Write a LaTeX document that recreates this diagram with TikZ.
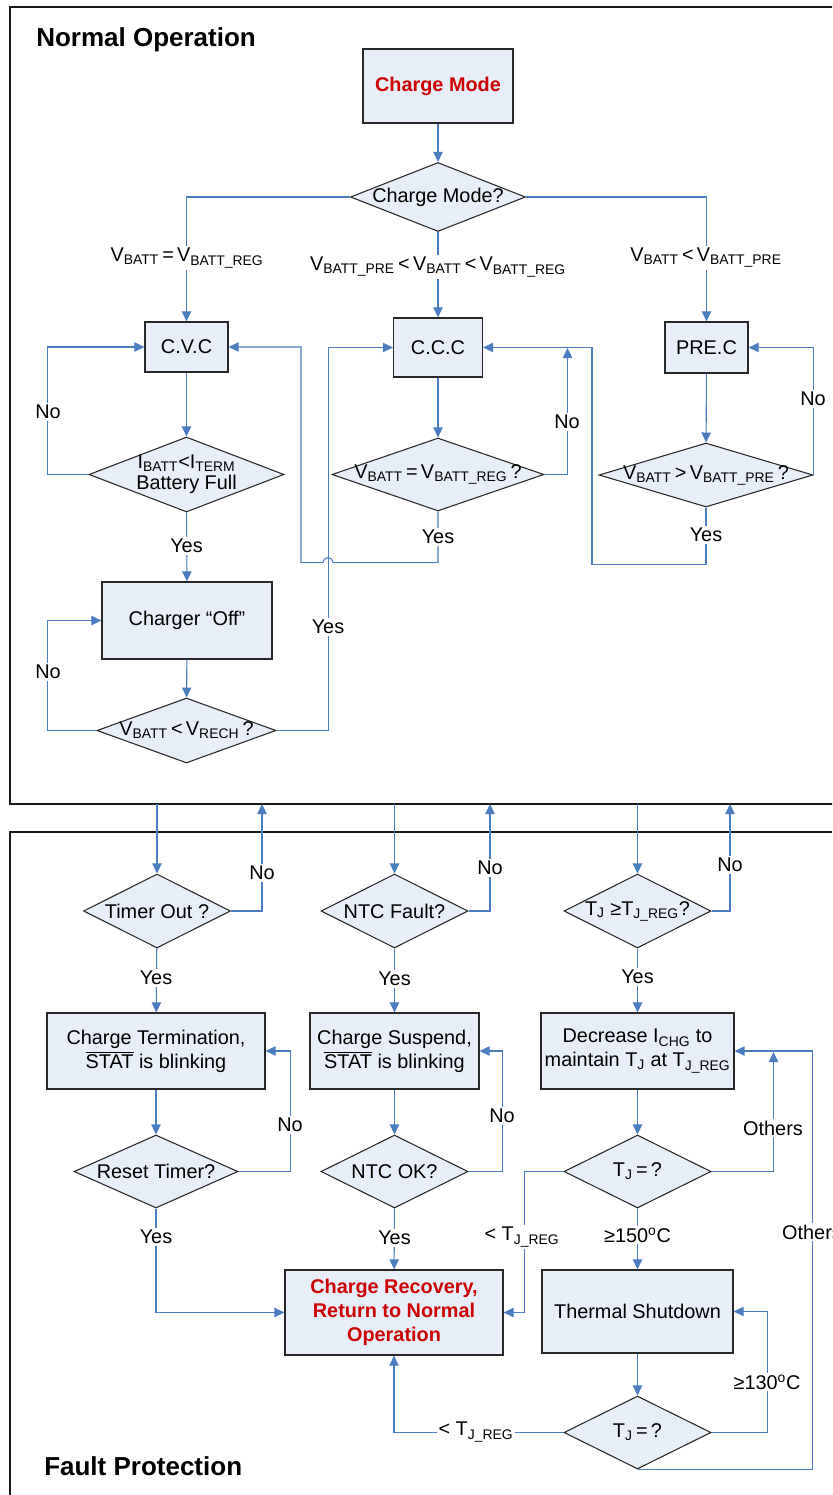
\documentclass[tikz,border=0pt]{standalone}
\usepackage{fontspec}
\setmainfont{Liberation Sans}
\usetikzlibrary{shapes.geometric,arrows.meta}
\definecolor{boxfill}{RGB}{232,238,247}
\definecolor{boxline}{RGB}{40,40,40}
\definecolor{flowblue}{RGB}{74,126,193}
\definecolor{alarm}{RGB}{204,0,0}
\newcommand{\sbs}[1]{\textsubscript{#1}}
\newcommand{\nbar}[1]{$\overline{\hbox{#1}}$}

\begin{document}
\begin{tikzpicture}[x=0.75pt, y=-0.75pt, font=\fontsize{14.9}{18}\selectfont,
	box/.style={draw=boxline, fill=boxfill, line width=0.9pt, align=center, inner sep=0pt},
	ask/.style={diamond, draw=boxline, fill=boxfill, line width=0.8pt, inner sep=0pt},
	flow/.style={draw=flowblue, line width=0.8pt, -{Triangle[length=7.5pt,width=7pt]}},
	lbl/.style={fill=white, inner sep=1.5pt},
	hot/.style={text=alarm, font=\fontsize{14.9}{18}\selectfont\bfseries},
	title/.style={font=\fontsize{19.5}{22}\selectfont\bfseries, inner sep=0pt}]
	\useasboundingbox (0,0) rectangle (832,1495);
	\clip (0,0) rectangle (832,1495);

	%frames
	\draw[line width=2.2pt, black!90] (10,7) rectangle (900,804);
	\draw[line width=2.2pt, black!90] (10,832) rectangle (900,1600);
	\node (normal) at (36,47) [anchor=base west, title]{Normal Operation};
	\node (fault) at (44,1475) [anchor=base west, title]{Fault Protection};
	\coordinate (fb) at (0,804);

	%normal operation
	\node (mode) at (438,86) [box, hot, minimum width=112.5pt, minimum height=55.5pt]{Charge Mode};
	\node (modeq) at (438,197) [ask, minimum width=131.25pt, minimum height=51.75pt, label=center:Charge Mode?]{};
	\node (cvc) at (186.5,347) [box, minimum width=62.25pt, minimum height=37.5pt]{C.V.C};
	\node (ccc) at (438,347.5) [box, minimum width=66.75pt, minimum height=44.25pt]{C.C.C};
	\node (prec) at (706.5,347.5) [box, minimum width=62.25pt, minimum height=38.25pt]{PRE.C};
	\node (fullq) at (186.5,474.5) [ask, minimum width=146.25pt, minimum height=56.25pt,
		label={[align=center, font=\fontsize{14.9}{16}\selectfont]center:I\sbs{BATT}<I\sbs{TERM}\\Battery Full}]{};
	\node (regq) at (438,474.5) [ask, minimum width=159pt, minimum height=54.75pt,
		label={center:V\sbs{BATT}\,=\,V\sbs{BATT\_REG}\,?}]{};
	\node (preq) at (706,475) [ask, minimum width=160.5pt, minimum height=48pt,
		label={center:V\sbs{BATT}\,>\,V\sbs{BATT\_PRE}\,?}]{};
	\node (off) at (187,620.5) [box, minimum width=127.5pt, minimum height=57.75pt]{Charger “Off”};
	\node (rechq) at (186.5,730.5) [ask, minimum width=134.25pt, minimum height=48.75pt,
		label={center:V\sbs{BATT}\,<\,V\sbs{RECH}\,?}]{};

	\draw[flow] (mode) -- (modeq);
	\draw[flow] (modeq.west) -| (cvc.north);
	\draw[flow] (modeq.south) -- (ccc.north);
	\draw[flow] (modeq.east) -| (prec.north);
	\draw[flow] (cvc) -- (fullq);
	\draw[flow] (ccc) -- (regq);
	\draw[flow] (prec) -- (preq);
	\draw[flow] (fullq) -- (off);
	\draw[flow] (off) -- (rechq);
	\draw[flow] (fullq.west) -- ++(-41,0) |- (cvc.west);
	\draw[flow] (regq.south) -- ++(0,51) -- ++(-105,0) arc[start angle=0, end angle=-180, radius=5] -- ++(-22,0) |- (cvc.east);
	\draw[flow] (rechq.east) -- ++(52,0) |- (ccc.west);
	\draw[flow] (regq.east) -- ++(23,0) -- ++(0,-126.5);
	\draw[flow] (preq.south) -- ++(0,57) -- ++(-114,0) |- (ccc.east);
	\draw[flow] (preq.east) |- (prec.east);
	\draw[flow] (rechq.west) -- ++(-49,0) |- (off.west);

	\node (eqreg) at (187,258) [lbl]{V\sbs{BATT}\,=\,V\sbs{BATT\_REG}};
	\node (between) at (438,267) [lbl]{V\sbs{BATT\_PRE}\,<\,V\sbs{BATT}\,<\,V\sbs{BATT\_REG}};
	\node (belowpre) at (706,258) [lbl]{V\sbs{BATT}\,<\,V\sbs{BATT\_PRE}};
	\node (fullno) at (48,412) [lbl]{No};
	\node (regno) at (567,422) [lbl]{No};
	\node (preno) at (813,399) [lbl]{No};
	\node (fullyes) at (186.5,546) [lbl]{Yes};
	\node (regyes) at (438,537) [lbl]{Yes};
	\node (preyes) at (706,535) [lbl]{Yes};
	\node (rechno) at (48,672) [lbl]{No};
	\node (rechyes) at (328,627) [lbl]{Yes};

	%fault protection
	\node (timerq) at (157,911) [ask, minimum width=110.25pt, minimum height=55.5pt, label=center:Timer Out ?]{};
	\node (ntcq) at (394.5,911) [ask, minimum width=110.25pt, minimum height=55.5pt, label=center:NTC Fault?]{};
	\node (tjq) at (637.5,911) [ask, minimum width=110.25pt, minimum height=55.5pt,
		label={center:T\sbs{J} ≥T\sbs{J\_REG}?}]{};
	\node (term) at (156,1051) [box, minimum width=163.5pt, minimum height=57pt]{Charge Termination,\\\nbar{STAT} is blinking};
	\node (susp) at (394.5,1051) [box, minimum width=126.75pt, minimum height=57pt]{Charge Suspend,\\\nbar{STAT} is blinking};
	\node (decr) at (637.5,1051) [box, minimum width=144.75pt, minimum height=57pt]{Decrease I\sbs{CHG} to\\maintain T\sbs{J} at T\sbs{J\_REG}};
	\node (resetq) at (156,1171.5) [ask, minimum width=123pt, minimum height=54.75pt, label=center:Reset Timer?]{};
	\node (okq) at (394.5,1171.5) [ask, minimum width=110.25pt, minimum height=54.75pt, label=center:NTC OK?]{};
	\node (tjeq) at (637.5,1171.5) [ask, minimum width=110.25pt, minimum height=54.75pt,
		label={center:T\sbs{J}\,=\,?}]{};
	\node (recov) at (394,1312.5) [box, hot, minimum width=163.5pt, minimum height=63.75pt]{Charge Recovery,\\Return to Normal\\Operation};
	\node (shut) at (637.5,1311.5) [box, minimum width=143.25pt, minimum height=62.25pt]{Thermal Shutdown};
	\node (tjeqb) at (637.5,1432.5) [ask, minimum width=110.25pt, minimum height=54.75pt,
		label={center:T\sbs{J}\,=\,?}]{};

	\foreach \q/\x/\y in {timerq/262/873, ntcq/490/868, tjq/730/865}{
		\coordinate (\q back) at (\x,804);
		\draw[flow] (\q.north |- fb) -- (\q.north);
		\draw[flow] (\q.east) -| (\q back);
		\node (\q no) at (\x,\y) [lbl]{No};
	}
	\draw[flow] (timerq) -- (term);
	\draw[flow] (ntcq) -- (susp);
	\draw[flow] (tjq) -- (decr);
	\draw[flow] (term) -- (resetq);
	\draw[flow] (susp) -- (okq);
	\draw[flow] (decr) -- (tjeq);
	\draw[flow] (resetq.east) -- ++(52,0) |- (term.east);
	\draw[flow] (okq.east) -- ++(34,0) |- (susp.east);
	\draw[flow] (tjeq.east) -- ++(62,0) -- ++(0,-119.5);
	\draw[flow] (tjeqb.south) -- ++(175,0) |- (decr.east);
	\draw[flow] (tjeq.west) -- ++(-39,0) |- (recov.east);
	\draw[flow] (tjeq) -- (shut);
	\draw[flow] (resetq.south) |- (recov.west);
	\draw[flow] (okq) -- (recov);
	\draw[flow] (shut) -- (tjeqb);
	\draw[flow] (tjeqb.east) -- ++(56,0) |- (shut.east);
	\draw[flow] (tjeqb.west) -| (recov.south);

	\node (timeryes) at (156,978) [lbl]{Yes};
	\node (ntcyes) at (394.5,979) [lbl]{Yes};
	\node (tjyes) at (637.5,977) [lbl]{Yes};
	\node (resetno) at (290,1125) [lbl]{No};
	\node (okno) at (502,1116) [lbl]{No};
	\node (tjothers) at (773,1128) [lbl]{Others};
	\node (resetyes) at (156,1237) [lbl]{Yes};
	\node (okyes) at (394.5,1238) [lbl]{Yes};
	\node (tjlow) at (522,1237) [lbl]{< T\sbs{J\_REG}};
	\node (tjhigh) at (637.5,1235) [lbl]{≥150\textsuperscript{o}C};
	\node (shutothers) at (812,1232) [lbl]{Others};
	\node (shuthigh) at (767,1382) [lbl]{≥130\textsuperscript{o}C};
	\node (shutlow) at (476,1432) [lbl]{< T\sbs{J\_REG}};
\end{tikzpicture}
\end{document}
